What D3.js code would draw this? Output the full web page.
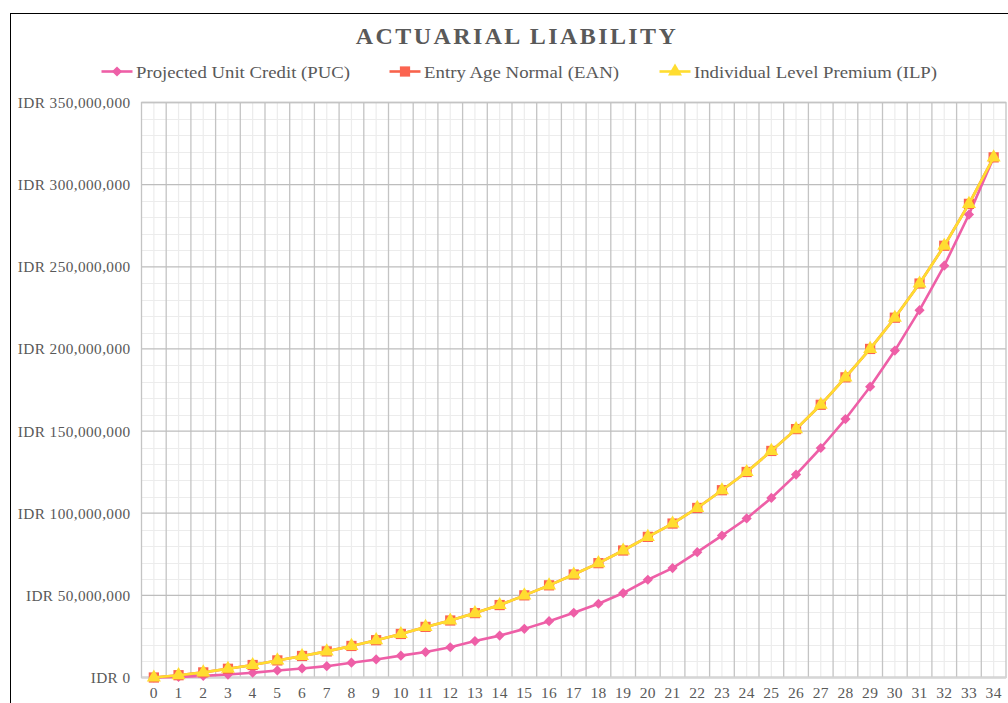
<!DOCTYPE html>
<html><head><meta charset="utf-8">
<script src="https://cdn.jsdelivr.net/npm/d3@7"></script>
<style>html,body{margin:0;padding:0;background:#fff;}svg{display:block;}</style>
</head><body>
<svg id="chart" width="1008" height="703"></svg>
<script>
const ages = d3.range(0, 35).map(String);
const yTicks = [0, 50e6, 100e6, 150e6, 200e6, 250e6, 300e6, 350e6];
const seriesNames = ["Projected Unit Credit (PUC)", "Entry Age Normal (EAN)", "Individual Level Premium (ILP)"];
// values in millions IDR
const puc = [0,0.4,1.0,1.8,2.9,4.3,5.5,6.9,9.0,11.0,13.3,15.5,18.4,22.2,25.5,29.6,34.3,39.4,44.9,51.4,59.5,66.6,76.3,86.4,96.8,109.3,123.5,139.7,157.3,177,199,223.6,250.7,281.8,316.6];
const ean = [0,1.4,3.1,5.3,7.6,10.4,13.1,15.9,19.2,22.7,26.5,30.8,34.7,39.2,44.1,50.0,56.1,62.7,69.6,77.3,85.6,93.7,103.2,114,125.1,137.9,151.2,166,182.7,200,219,239.8,262.8,288.3,316.6];
const ilp = [0,1.4,3.1,5.3,7.6,10.4,13.1,15.9,19.2,22.7,26.5,30.8,34.7,39.2,44.1,50.0,56.1,62.7,69.6,77.3,85.6,93.7,103.2,114,125.1,137.9,151.2,166,182.7,200,219,239.8,262.8,288.3,316.6];

const svg = d3.select("#chart");
const serif = "'Liberation Serif','Times New Roman',serif";
const txt = "#595959";

// outer chart border (cropped)
svg.append("rect").attr("x",10.5).attr("y",13.5).attr("width",1200).attr("height",900)
  .attr("fill","none").attr("stroke","#000").attr("stroke-width",1);

const L=141.5, R=1006, T=102.5, B=677.5;
const x = d3.scaleBand().domain(ages).range([L,R]).padding(0);
const y = d3.scaleLinear().domain([0,350e6]).range([B,T]);

const g = svg.append("g");
// minor horizontal grid
g.append("g").selectAll("line").data(d3.range(0,350e6+1,10e6).filter(v=>v%50e6!==0))
 .join("line").attr("x1",L).attr("x2",R).attr("y1",d=>Math.round(y(d))+0.5).attr("y2",d=>Math.round(y(d))+0.5)
 .attr("stroke","#ECECEC").attr("stroke-width",1);
// minor vertical grid at category centres
g.append("g").selectAll("line").data(ages).join("line")
 .attr("x1",d=>x(d)+x.bandwidth()/2).attr("x2",d=>x(d)+x.bandwidth()/2).attr("y1",T).attr("y2",B)
 .attr("stroke","#ECECEC").attr("stroke-width",1.2);
// major vertical grid at category boundaries
g.append("g").selectAll("line").data(ages.slice(1)).join("line")
 .attr("x1",d=>x(d)).attr("x2",d=>x(d)).attr("y1",T).attr("y2",B)
 .attr("stroke","#C4C4C4").attr("stroke-width",1.3);
// major horizontal grid
g.append("g").selectAll("line").data(yTicks).join("line")
 .attr("x1",L).attr("x2",R).attr("y1",d=>y(d)).attr("y2",d=>y(d))
 .attr("stroke","#BDBDBD").attr("stroke-width",1.3);
// plot border
g.append("rect").attr("x",L).attr("y",T).attr("width",R-L).attr("height",B-T)
 .attr("fill","none").attr("stroke","#C4C4C4").attr("stroke-width",1.3);
g.append("line").attr("x1",L).attr("x2",R).attr("y1",B).attr("y2",B).attr("stroke","#D6D6D6").attr("stroke-width",2);

// axes via d3
const fmt = v => "IDR " + d3.format(",")(v);
const yAxis = svg.append("g").attr("transform",`translate(${L},0)`)
  .call(d3.axisLeft(y).tickValues(yTicks).tickFormat(fmt).tickSize(0).tickPadding(11));
yAxis.select(".domain").remove();
yAxis.selectAll("text").attr("font-family",serif).attr("font-size",15.3).attr("fill",txt)
  .attr("dy","0.33em").attr("letter-spacing","0.4px");

const xAxis = svg.append("g").attr("transform",`translate(0,${B})`)
  .call(d3.axisBottom(x).tickSize(0).tickPadding(9));
xAxis.select(".domain").remove();
xAxis.selectAll("text").attr("font-family",serif).attr("font-size",15.5).attr("fill",txt).attr("letter-spacing","0.3px");

// series
const cx = i => x(ages[i]) + x.bandwidth()/2;
const colors = ["#EE5FA7", "#F8634C", "#FFDD30"];
const markerFill = ["#EE5FA7", "#FB6450", "#FFDD30"];
const data = [puc, ean, ilp];
const line = d3.line().x((d,i)=>cx(i)).y(d=>y(d*1e6));
const symPaths = [
  d3.symbol().type(d3.symbolSquare).size(52)(),
  d3.symbol().type(d3.symbolSquare).size(105)(),
  d3.symbol().type(d3.symbolTriangle).size(85)()
];
const symRot = [45, 0, 0];

data.forEach((vals,k)=>{
  svg.append("path").datum(vals).attr("d",line).attr("fill","none")
    .attr("stroke",colors[k]).attr("stroke-width",2.6).attr("stroke-linejoin","round");
  svg.append("g").selectAll("path").data(vals).join("path")
    .attr("transform",(d,i)=>`translate(${cx(i)},${y(d*1e6)}) rotate(${symRot[k]})`)
    .attr("d", symPaths[k])
    .attr("fill",markerFill[k]);
});

// title
svg.append("text").attr("x",517).attr("y",43.5).attr("text-anchor","middle")
  .attr("font-family",serif).attr("font-weight","bold").attr("font-size",24)
  .attr("fill",txt).attr("letter-spacing","2.4px").text("ACTUARIAL LIABILITY");

// legend
const legX = [101.5, 389.5, 659.5];
const legW = [214, 195, 243];
seriesNames.forEach((name,k)=>{
  const lg = svg.append("g");
  lg.append("line").attr("x1",legX[k]).attr("x2",legX[k]+31).attr("y1",71.5).attr("y2",71.5)
    .attr("stroke",colors[k]).attr("stroke-width",2.6);
  lg.append("path").attr("transform",`translate(${legX[k]+15.5},71.5) rotate(${symRot[k]})`)
    .attr("d", symPaths[k])
    .attr("fill",markerFill[k]);
  lg.append("text").attr("x",legX[k]+34.5).attr("y",77.5)
    .attr("font-family",serif).attr("font-size",17.5).attr("fill",txt)
    .attr("textLength",legW[k]).attr("lengthAdjust","spacingAndGlyphs").text(name);
});
</script>
</body></html>
